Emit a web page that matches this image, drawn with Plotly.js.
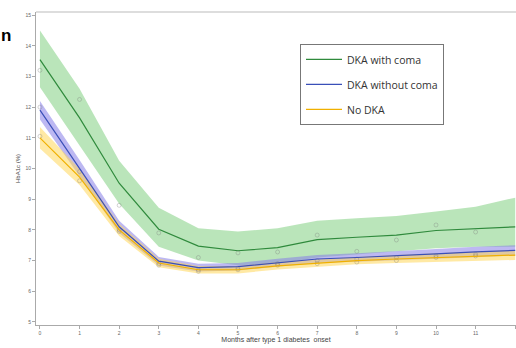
<!DOCTYPE html>
<html><head><meta charset="utf-8">
<script src="https://cdn.plot.ly/plotly-3.0.1.min.js"></script>
<style>body{margin:0;background:#fff}#c{width:516px;height:348px}</style>
</head><body><div id="c"></div>
<script>
const months = [0,1,2,3,4,5,6,7,8,9,10,11,12];
const xTicks = [0,1,2,3,4,5,6,7,8,9,10,11,12];
const yTicks = [5,6,7,8,9,10,11,12,13,14,15];

const comaFit   = [13.55,11.65,9.52,8.02,7.47,7.32,7.42,7.68,7.76,7.83,7.98,8.05,8.1];
const comaUpper = [14.5,12.6,10.25,8.72,8.05,7.95,8.05,8.3,8.38,8.45,8.6,8.75,9.05];
const comaLower = [12.65,10.75,8.85,7.45,7.0,6.85,6.9,7.1,7.2,7.28,7.4,7.45,7.45];
const comaObs   = [13.2,12.25,8.8,7.9,7.1,7.25,7.28,7.83,7.3,7.67,8.16,7.93,null];

const noComaFit   = [11.9,10.02,8.1,6.98,6.77,6.8,6.93,7.05,7.1,7.15,7.22,7.28,7.33];
const noComaUpper = [12.2,10.28,8.3,7.12,6.9,6.92,7.06,7.18,7.24,7.3,7.38,7.45,7.5];
const noComaLower = [11.6,9.76,7.9,6.84,6.64,6.68,6.8,6.92,6.96,7.0,7.06,7.11,7.16];
const noComaObs   = [12.0,9.9,8.0,6.9,6.7,6.75,6.9,7.0,7.05,7.1,7.15,7.2,null];

const noDkaFit   = [11.0,9.72,8.0,6.92,6.7,6.7,6.83,6.92,7.0,7.05,7.1,7.15,7.18];
const noDkaUpper = [11.35,9.98,8.2,7.06,6.82,6.82,6.95,7.04,7.12,7.18,7.24,7.3,7.34];
const noDkaLower = [10.65,9.46,7.8,6.78,6.58,6.58,6.71,6.8,6.88,6.92,6.96,7.0,7.02];
const noDkaObs   = [11.05,9.6,7.95,6.85,6.65,6.7,6.85,6.9,6.95,7.0,7.1,7.15,null];

const seriesNames = ['DKA with coma','DKA without coma','No DKA'];

const groups = [
  {name: seriesNames[0], fit: comaFit, up: comaUpper, lo: comaLower, obs: comaObs,
   band: 'rgba(130,208,130,0.55)', line: '#2f8a3c'},
  {name: seriesNames[1], fit: noComaFit, up: noComaUpper, lo: noComaLower, obs: noComaObs,
   band: 'rgba(135,125,232,0.55)', line: '#3a4fb8'},
  {name: seriesNames[2], fit: noDkaFit, up: noDkaUpper, lo: noDkaLower, obs: noDkaObs,
   band: 'rgba(255,215,90,0.55)', line: '#f0b000'}
];

const traces = [];
groups.forEach((g, i) => {
  traces.push({x: months, y: g.lo, mode: 'lines', line: {width: 0}, showlegend: false, hoverinfo: 'skip'});
  traces.push({x: months, y: g.up, mode: 'lines', line: {width: 0}, fill: 'tonexty', fillcolor: g.band, showlegend: false, hoverinfo: 'skip'});
});
groups.forEach((g, i) => {
  traces.push({x: months, y: g.obs, mode: 'markers', showlegend: false,
    marker: {symbol: 'circle-open', size: 4, color: 'rgba(120,120,120,0.55)', line: {width: 0.6}}});
  traces.push({x: months, y: g.fit, mode: 'lines', name: g.name, legendgroup: 'g' + i,
    line: {color: g.line, width: 1.2}});
});

const layout = {
  width: 516, height: 348,
  margin: {l: 36, r: 0, t: 12, b: 23},
  paper_bgcolor: '#fff', plot_bgcolor: '#fff',
  font: {family: 'Liberation Sans, Arial, sans-serif', color: '#555'},
  showlegend: true,
  legend: {x: 0.55, y: 0.898, xanchor: 'left', yanchor: 'top',
    bordercolor: '#777', borderwidth: 1, bgcolor: '#fff',
    font: {size: 10.5, color: '#333', family: 'Open Sans, sans-serif'},
    tracegroupgap: 6, itemwidth: 36},
  xaxis: {range: [-0.1, 12.02], tickvals: xTicks, ticktext: xTicks.map(String),
    showgrid: false, zeroline: false, showline: true, linecolor: '#aaa', linewidth: 1,
    ticks: 'outside', ticklen: 3, tickcolor: '#aaa', tickfont: {size: 5, color: '#666'},
    title: {text: 'Months after type 1 diabetes  onset', font: {size: 7, color: '#444'}, standoff: 2}},
  yaxis: {range: [4.9, 15.1], tickvals: yTicks, ticktext: yTicks.map(String),
    showgrid: false, zeroline: false, showline: true, linecolor: '#aaa', linewidth: 1,
    ticks: 'outside', ticklen: 3, tickcolor: '#aaa', tickfont: {size: 5, color: '#666'},
    title: {text: 'HbA1c (%)', font: {size: 6, color: '#444'}, standoff: 4}},
  shapes: [{type: 'line', xref: 'paper', yref: 'paper', x0: 0, x1: 1, y0: 1, y1: 1,
    line: {color: '#bbb', width: 1}}],
  annotations: [{text: '<b>n</b>', xref: 'paper', yref: 'paper', x: -0.078, y: 0.926,
    xanchor: 'left', yanchor: 'middle', showarrow: false,
    font: {size: 17, color: '#000', family: 'Liberation Sans, Arial, sans-serif'}}]
};

Plotly.newPlot('c', traces, layout, {displayModeBar: false, staticPlot: true});
</script>
</body></html>
